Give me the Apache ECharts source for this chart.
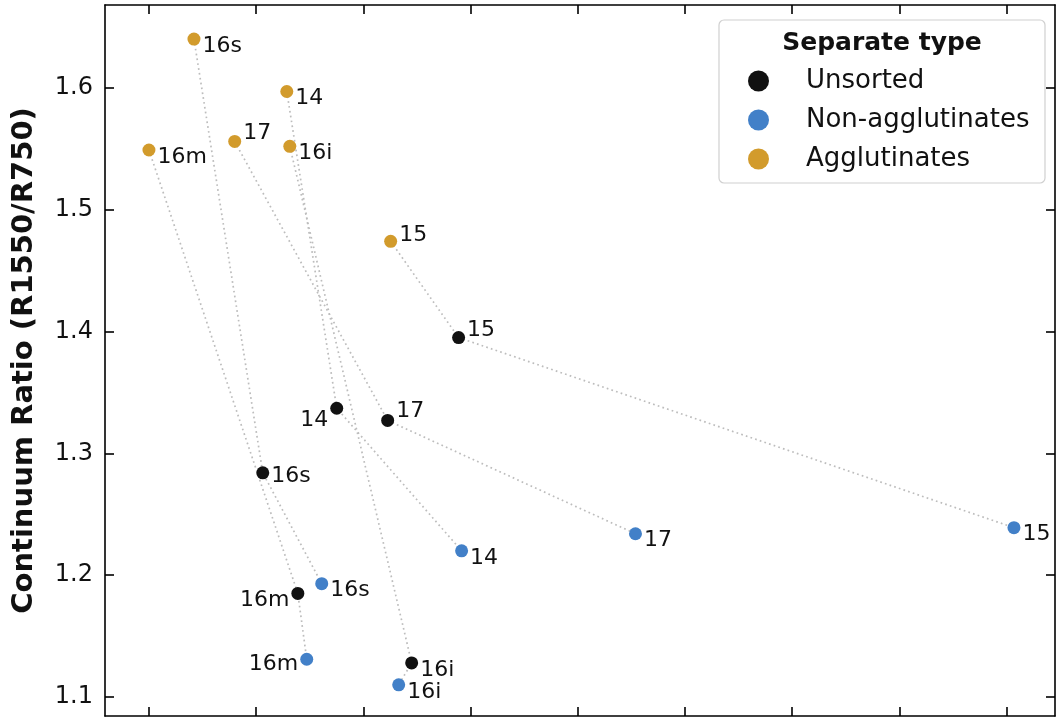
<!DOCTYPE html>
<html><head><meta charset="utf-8">
<script src="https://cdn.jsdelivr.net/npm/echarts@6/dist/echarts.min.js"></script>
<style>html,body{margin:0;padding:0;background:#fff}#c{width:1056px;height:719px}</style>
</head><body><div id="c"></div>
<script>
// ---- data ----
const samples = ['14', '15', '16i', '16m', '16s', '17'];
const aggX = [1.286, 2.255, 1.314, 0.00, 0.42, 0.80];
const aggY = [1.597, 1.474, 1.552, 1.549, 1.640, 1.556];
const unsX = [1.752, 2.889, 2.451, 1.389, 1.062, 2.227];
const unsY = [1.337, 1.395, 1.128, 1.185, 1.284, 1.327];
const nonX = [2.917, 8.07, 2.330, 1.472, 1.612, 4.539];
const nonY = [1.220, 1.239, 1.110, 1.131, 1.193, 1.234];
const xTicks = [0, 1, 2, 3, 4, 5, 6, 7, 8];
const yTicks = [1.1, 1.2, 1.3, 1.4, 1.5, 1.6];
const typeNames = ['Unsorted', 'Non-agglutinates', 'Agglutinates'];

// ---- styles ----
const colors = {'Unsorted': '#111111', 'Non-agglutinates': '#4280c8', 'Agglutinates': '#d29b2c'};
// label placement: [position, dx, dy]
const defPlace = ['right', -3, 7];
const place = {
  'Agglutinates': {'17': ['right', -3, -8], '15': ['right', -3, -6]},
  'Unsorted': {'14': ['left', 3, 12], '16m': ['left', 3, 7], '17': ['right', -3, -9], '15': ['right', -3, -7], '16s': ['right', -3, 3]},
  'Non-agglutinates': {'16m': ['left', 3, 5]}
};
const X_MIN = -0.41, X_MAX = 8.453, Y_MIN = 1.0844, Y_MAX = 1.668;
const FONT = 'DejaVu Sans';

function pts(name, xs, ys) {
  return samples.map((s, i) => {
    const p = (place[name] && place[name][s]) || defPlace;
    return {name: s, value: [xs[i], ys[i]],
      label: {show: true, position: p[0], offset: [p[1], p[2]], formatter: s,
              color: '#111', fontSize: 22, fontFamily: FONT}};
  });
}

const series = [];
samples.forEach((s, i) => {
  series.push({
    type: 'line', name: 'link' + s, silent: true, symbol: 'none', z: 1,
    data: [[aggX[i], aggY[i]], [unsX[i], unsY[i]], [nonX[i], nonY[i]]],
    lineStyle: {color: '#bdbdbd', width: 1.7, type: [1.7, 3.2]}
  });
});
const sets = {'Unsorted': [unsX, unsY], 'Non-agglutinates': [nonX, nonY], 'Agglutinates': [aggX, aggY]};
typeNames.forEach(n => {
  series.push({
    type: 'scatter', name: n, z: 3, symbolSize: 13,
    itemStyle: {color: colors[n], opacity: 1},
    data: pts(n, sets[n][0], sets[n][1])
  });
});

const axisLine = {show: true, onZero: false, lineStyle: {color: '#000', width: 1.6}};
const tick = {show: true, inside: true, length: 9, lineStyle: {color: '#000', width: 1.6}};
const chart = echarts.init(document.getElementById('c'), null, {renderer: 'canvas'});
chart.setOption({
  animation: false,
  backgroundColor: '#fff',
  grid: {left: 105, right: 1, top: 5, bottom: 3, containLabel: false},
  xAxis: [
    {type: 'value', min: X_MIN, max: X_MAX, position: 'bottom', axisLine,
     axisTick: Object.assign({customValues: xTicks}, tick),
     axisLabel: {show: false}, splitLine: {show: false}},
    {type: 'value', min: X_MIN, max: X_MAX, position: 'top', axisLine,
     axisTick: Object.assign({customValues: xTicks}, tick),
     axisLabel: {show: false}, splitLine: {show: false}}
  ],
  yAxis: [
    {type: 'value', min: Y_MIN, max: Y_MAX, position: 'left', axisLine,
     name: 'Continuum Ratio (R1550/R750)', nameLocation: 'middle', nameGap: 66,
     nameTextStyle: {fontFamily: FONT, fontWeight: 'bold', fontSize: 29, color: '#111'},
     axisTick: Object.assign({customValues: yTicks}, tick),
     axisLabel: {show: true, customValues: yTicks, margin: 12, fontSize: 24, fontFamily: FONT, color: '#111',
                 formatter: v => v.toFixed(1)},
     splitLine: {show: false}},
    {type: 'value', min: Y_MIN, max: Y_MAX, position: 'right', axisLine,
     axisTick: Object.assign({customValues: yTicks}, tick),
     axisLabel: {show: false}, splitLine: {show: false}}
  ],
  legend: {
    data: typeNames, orient: 'vertical', left: 743, top: 63,
    icon: 'circle', itemWidth: 21, itemHeight: 21, itemGap: 13,
    textStyle: {fontFamily: FONT, fontSize: 26, color: '#111', padding: [0, 0, 0, 32]}
  },
  graphic: [
    {type: 'rect', x: 719, y: 20, z: 0,
     shape: {width: 326, height: 163, r: 5},
     style: {fill: 'rgba(255,255,255,0.85)', stroke: '#d0d0d0', lineWidth: 1.2}},
    {type: 'text', x: 882, y: 31, z: 10,
     style: {text: 'Separate type', fontFamily: FONT, fontWeight: 'bold', fontSize: 25, fill: '#111', textAlign: 'center'}}
  ],
  series
});
</script></body></html>
